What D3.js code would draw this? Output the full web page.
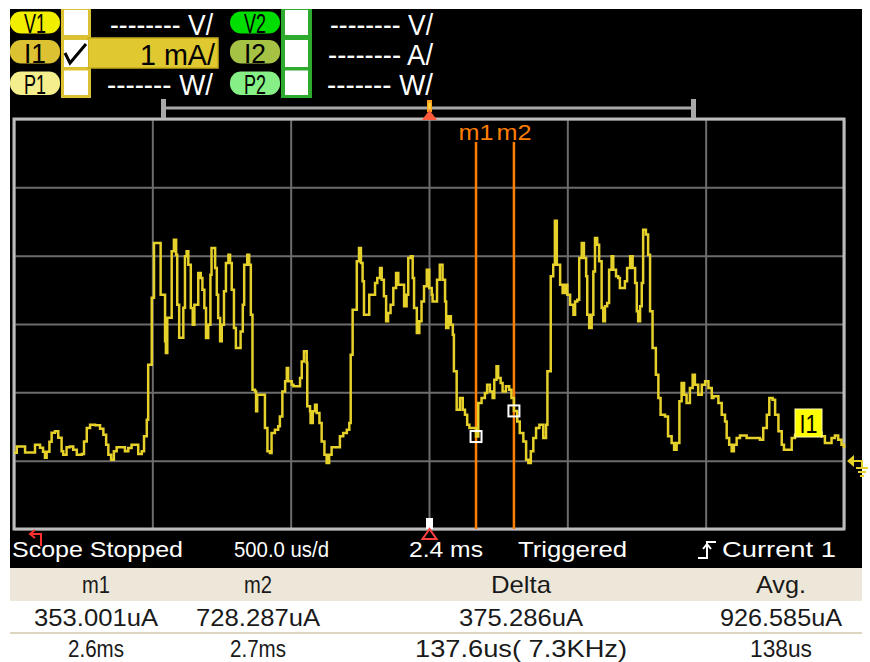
<!DOCTYPE html>
<html><head><meta charset="utf-8">
<script src="https://cdn.jsdelivr.net/npm/d3@7"></script>
<style>html,body{margin:0;padding:0;background:#fff;} svg{display:block;}</style>
</head><body>
<svg id="c" width="870" height="662"></svg>
<script>
// ---- data (time in ms, current in mA) ----
const timeMs = [0.900,0.910,0.940,0.976,0.994,1.005,1.012,1.018,1.028,1.036,1.048,1.060,1.072,1.078,1.090,1.102,1.114,1.127,1.145,1.153,1.163,1.175,1.193,1.211,1.223,1.233,1.241,1.251,1.261,1.271,1.301,1.313,1.325,1.349,1.362,1.370,1.380,1.385,1.398,1.406,
1.430,1.446,1.449,1.454,1.470,1.478,1.486,1.490,1.497,1.512,1.518,1.524,1.530,1.539,1.546,1.552,1.566,1.575,1.581,1.588,1.594,1.602,1.610,1.614,1.627,1.633,1.638,1.645,1.651,1.659,1.666,1.675,1.681,1.687,1.695,1.702,1.719,1.727,1.732,1.743,1.750,1.756,1.762,1.771,1.775,1.779,1.807,1.816,1.825,1.831,1.843,1.855,1.861,1.870,1.880,1.886,1.891,1.904,
1.910,1.934,1.940,1.948,1.958,1.960,1.970,1.972,1.980,1.988,1.994,2.004,2.012,2.022,2.030,2.039,2.048,2.078,2.090,2.103,2.112,2.117,2.124,2.139,2.147,2.154,2.160,2.165,2.184,2.205,2.213,2.223,2.229,2.237,2.245,2.252,2.261,2.271,2.281,2.289,2.310,2.319,2.325,2.334,2.341,2.346,2.356,2.365,2.373,2.382,2.392,2.401,2.410,
2.413,2.429,2.439,2.449,2.458,2.462,2.470,2.479,2.486,2.490,2.500,2.512,2.522,2.530,2.538,2.546,2.570,2.578,2.590,2.602,2.610,2.620,2.630,2.636,2.644,2.650,2.659,2.666,2.678,2.690,2.698,2.707,2.719,2.728,2.741,2.751,2.759,2.768,2.777,2.787,2.799,2.813,2.823,2.828,2.840,2.849,2.855,2.862,2.874,2.883,2.892,2.900,2.910,2.922,
2.928,2.936,2.943,2.952,2.960,2.968,2.972,2.979,2.988,2.994,3.000,3.008,3.015,3.024,3.030,3.036,3.044,3.051,3.060,3.066,3.076,3.084,3.090,3.108,3.116,3.127,3.136,3.145,3.151,3.156,3.163,3.169,3.174,3.184,3.192,3.199,3.208,3.220,3.229,3.237,3.253,3.264,3.277,3.286,3.295,3.305,3.313,3.322,3.331,3.343,3.353,3.361,3.373,3.386,3.398,3.410,3.422,
3.428,3.446,3.458,3.470,3.476,3.485,3.494,3.502,3.512,3.524,3.548,3.596,3.608,3.621,3.630,3.642,3.651,3.663,3.675,3.683,3.711,3.723,3.770,3.819,3.831,3.855,3.867,3.879,3.891,3.900];
const currentMa = [0.117,0.209,0.121,0.234,0.190,0.132,0.044,0.132,0.278,0.410,0.429,0.337,0.136,0.088,0.195,0.209,0.161,0.088,0.098,0.282,0.479,0.527,0.517,0.468,0.381,0.234,0.088,0.015,0.136,0.195,0.136,0.186,0.234,0.098,0.136,0.356,0.600,1.405,2.385,3.186,
2.429,1.746,1.576,2.093,3.063,3.234,3.015,2.283,1.800,2.239,2.990,3.063,2.868,2.235,1.990,2.283,2.747,2.674,2.503,2.235,1.796,1.990,2.722,3.113,2.820,2.429,2.088,1.746,1.990,2.478,2.893,3.015,2.893,2.503,1.942,1.649,1.892,2.283,2.868,3.015,2.868,2.137,1.039,1.014,0.722,0.966,0.479,0.136,0.113,0.405,0.454,0.502,0.648,1.014,1.161,1.357,1.161,1.112,
1.088,1.210,1.453,1.600,1.434,0.795,0.722,0.552,0.722,0.820,0.698,0.552,0.282,0.088,-0.034,0.088,0.195,0.356,0.405,0.454,0.552,1.551,2.210,2.917,3.113,2.893,2.624,2.137,2.429,2.600,2.674,2.820,2.649,2.405,2.039,2.161,2.283,2.527,2.747,2.576,2.258,2.429,2.966,2.990,2.674,2.235,1.869,2.039,2.331,2.551,2.795,2.527,2.429,
2.331,2.649,2.868,2.649,2.331,1.942,2.112,1.990,1.844,1.307,0.746,0.918,0.746,0.673,0.527,0.479,0.353,0.844,0.918,0.991,1.112,1.014,0.918,1.185,1.380,1.210,1.137,1.014,1.088,1.039,0.918,0.728,0.575,0.405,0.282,0.015,-0.034,0.136,0.332,0.479,0.527,0.332,0.527,1.307,2.697,2.868,3.512,2.868,2.576,2.454,2.576,2.429,2.283,2.137,
2.331,2.356,2.966,3.186,2.966,2.697,2.137,1.942,2.137,2.770,3.259,3.161,2.917,2.235,2.039,2.258,2.308,2.795,2.990,2.795,2.697,2.674,2.527,2.624,2.820,2.990,2.820,2.600,2.185,2.039,2.258,2.600,3.381,3.308,3.015,2.185,1.649,1.259,0.918,0.673,0.648,0.356,0.259,0.161,0.259,0.868,1.137,0.966,0.844,1.064,1.259,1.112,0.966,1.112,1.161,1.064,0.918,
0.941,0.844,0.673,0.575,0.332,0.234,0.136,0.234,0.332,0.370,0.332,0.307,0.479,0.673,0.918,0.893,0.673,0.429,0.234,0.161,0.332,0.381,0.410,0.356,0.259,0.332,0.370,0.307,0.234,0.186];
const xGridTicks = [0.9,1.4,1.9,2.4,2.9,3.4,3.9];
const yGridTicks = [-1,0,1,2,3,4,5];
const markerNames = ["m1","m2"];
const markerTimes = [2.570,2.707];
const markerValues = [0.353,0.728];
const statusTexts = ["Scope Stopped","500.0 us/d","2.4 ms","Triggered","Current 1"];
const tableHeaders = ["m1","m2","Delta","Avg."];
const tableRow1 = ["353.001uA","728.287uA","375.286uA","926.585uA"];
const tableRow2 = ["2.6ms","2.7ms","137.6us( 7.3KHz)","138us"];
const leftChannels = ["V1","I1","P1"];
const rightChannels = ["V2","I2","P2"];
const leftScales = ["-------- V/","1 mA/","------- W/"];
const rightScales = ["-------- V/","-------- A/","------- W/"];
const channelName = "I1";

// ---- drawing ----
const FONT = "'Liberation Sans', Arial, sans-serif";
const svg = d3.select("#c");
svg.append("rect").attr("width",870).attr("height",662).attr("fill","#fff");
svg.append("rect").attr("x",10).attr("y",9).attr("width",852).attr("height",559).attr("fill","#000");

const x = d3.scaleLinear().domain([0.9,3.9]).range([14,844]);
const y = d3.scaleLinear().domain([-1,5]).range([529,119]);
const W = 830, H = 410;

function txt(s,xp,yp,size,fill,opts={}){
  const t = svg.append("text").attr("x",xp).attr("y",yp).attr("font-family",FONT)
    .attr("font-size",size).attr("fill",fill).attr("text-anchor",opts.anchor||"start").text(s);
  if(opts.len) t.attr("textLength",opts.len).attr("lengthAdjust","spacingAndGlyphs");
  return t;
}

// grid
const gx = svg.append("g").attr("transform","translate(0,529)")
  .call(d3.axisBottom(x).tickValues(xGridTicks).tickSize(-H).tickFormat(""));
const gy = svg.append("g").attr("transform","translate(14,0)")
  .call(d3.axisLeft(y).tickValues(yGridTicks).tickSize(-W).tickFormat(""));
[gx,gy].forEach(g=>{g.select(".domain").remove();
  g.selectAll(".tick line").attr("stroke","#6c6c6c").attr("stroke-width",2);});
svg.append("rect").attr("x",14).attr("y",119).attr("width",W).attr("height",H)
  .attr("fill","none").attr("stroke","#bcbcbc").attr("stroke-width",3);

// top bracket + trigger marker
svg.append("line").attr("x1",163).attr("x2",694).attr("y1",108).attr("y2",108).attr("stroke","#a8a8a8").attr("stroke-width",3);
svg.append("rect").attr("x",161).attr("y",99).attr("width",5).attr("height",19).attr("fill","#a8a8a8");
svg.append("rect").attr("x",691).attr("y",99).attr("width",5).attr("height",19).attr("fill","#a8a8a8");
svg.append("rect").attr("x",427).attr("y",100).attr("width",5).attr("height",12).attr("fill","#ffa020");
svg.append("rect").attr("x",428.5).attr("y",103).attr("width",2).attr("height",6).attr("fill","#ffe040");
svg.append("path").attr("d","M422,120 L437,120 L429.5,110 Z").attr("fill","#ff5a3c");

// bottom trigger marker
svg.append("rect").attr("x",426).attr("y",518).attr("width",7).attr("height",11).attr("fill","#fff");
svg.append("path").attr("d","M429.5,529 L422.5,539 L436.5,539 Z").attr("fill","none").attr("stroke","#ff4040").attr("stroke-width",2);

// markers
markerTimes.forEach((t,i)=>{
  svg.append("line").attr("x1",x(t)).attr("x2",x(t)).attr("y1",142).attr("y2",529)
    .attr("stroke","#ff7f00").attr("stroke-width",2.5);
  txt(markerNames[i],x(t),140,22,"#ff7f00",{anchor:"middle",len:35});
});

// trace
const line = d3.line().x((d,i)=>x(timeMs[i])).y(d=>y(d)).curve(d3.curveStepAfter);
svg.append("path").datum(currentMa).attr("d",line).attr("fill","none")
  .attr("stroke","#e6d02a").attr("stroke-width",2.5);

// marker boxes
markerTimes.forEach((t,i)=>{
  svg.append("rect").attr("x",x(t)-5.5).attr("y",y(markerValues[i])-5.5).attr("width",11).attr("height",11)
    .attr("fill","none").attr("stroke","#fff").attr("stroke-width",2);
});

// channel label
svg.append("rect").attr("x",795).attr("y",409).attr("width",27).attr("height",28).attr("fill","#ffff00").attr("stroke","#fffbb0").attr("stroke-width",1);
txt(channelName,808.5,433,26,"#000",{anchor:"middle",len:18});

// ground marker
svg.append("path").attr("d","M848,461 L862,461 L862,468 M856,468 L868,468 M858,472 L866,472 M860,476 L864,476")
  .attr("stroke","#e6d02a").attr("stroke-width",2).attr("fill","none");
svg.append("path").attr("d","M847,461 L854,455 L854,467 Z").attr("fill","#e6d02a");

// header: pills, check columns, scale texts
const rowY = [[11.5,22],[40,23.5],[71.5,23.5]];
const pillL = ["#f2ee00","#dcc233","#f4ee8c"];
const pillR = ["#00dd00","#a6c244","#86f086"];
function pill(x0,y0,h,col,label){
  svg.append("rect").attr("x",x0).attr("y",y0).attr("width",50).attr("height",h).attr("rx",11).attr("fill",col);
  txt(label,x0+25,y0+h-1,27,"#000",{anchor:"middle",len:22});
}
leftChannels.forEach((c,i)=>pill(10,rowY[i][0],rowY[i][1],pillL[i],c));
rightChannels.forEach((c,i)=>pill(230,rowY[i][0],rowY[i][1],pillR[i],c));

// check columns
svg.append("rect").attr("x",61).attr("y",9).attr("width",30).attr("height",89).attr("fill","#dcc233");
svg.append("rect").attr("x",281).attr("y",9).attr("width",31).attr("height",89).attr("fill","#2eaa2e");
// I1 active bar
svg.append("rect").attr("x",88).attr("y",38).attr("width",130).attr("height",30).attr("fill","#e0c830").attr("stroke","#c8ac1c").attr("stroke-width",1.5);
const boxY = [[10,25],[40,27],[70.5,24.5]];
boxY.forEach(b=>{
  svg.append("rect").attr("x",64).attr("y",b[0]).attr("width",24).attr("height",b[1]).attr("fill","#fff");
  svg.append("rect").attr("x",285).attr("y",b[0]).attr("width",23).attr("height",b[1]).attr("fill","#fff");
});
svg.append("path").attr("d","M65,53 L70,63 L86,44").attr("stroke","#000").attr("stroke-width",3).attr("fill","none");

// scale texts
txt(leftScales[0],213,35,30,"#fff",{anchor:"end",len:103});
txt(leftScales[1],215,65,30,"#000",{anchor:"end",len:75});
txt(leftScales[2],213,95,30,"#fff",{anchor:"end",len:106});
txt(rightScales[0],433,35,30,"#fff",{anchor:"end",len:103});
txt(rightScales[1],433,65,30,"#fff",{anchor:"end",len:105});
txt(rightScales[2],433,95,30,"#fff",{anchor:"end",len:106});

// bottom-left red arrow
svg.append("path").attr("d","M30,534 L41,534 L41,546 M35,530 L30,534 L35,538").attr("stroke","#ff3030").attr("stroke-width",2).attr("fill","none");
// trigger edge icon
svg.append("path").attr("d","M698,558 L707,558 L707,542 L716,542 M703,549 L707,544 L711,549").attr("stroke","#fff").attr("stroke-width",2).attr("fill","none");

// status row
const statusX = [12,234,409,518,722];
const statusW = [171,95,74,109,114];
statusTexts.forEach((s,i)=>txt(s,statusX[i],557,22,"#fff",{len:statusW[i]}));

// table
svg.append("rect").attr("x",10).attr("y",568).attr("width",852).attr("height",33).attr("fill","#ece7d8");
svg.append("rect").attr("x",10).attr("y",632).attr("width",852).attr("height",2).attr("fill","#ddd5bf");
const colX = [96,258,521,781];
const rowDefs = [[tableHeaders,593,[28,28,60,50]],[tableRow1,626,[124,124,124,122]],[tableRow2,657,[56,56,212,62]]];
rowDefs.forEach(r=>{
  r[0].forEach((s,i)=>txt(s,colX[i],r[1],24,"#1a1a1a",{anchor:"middle",len:r[2][i]}));
});
</script>
</body></html>
